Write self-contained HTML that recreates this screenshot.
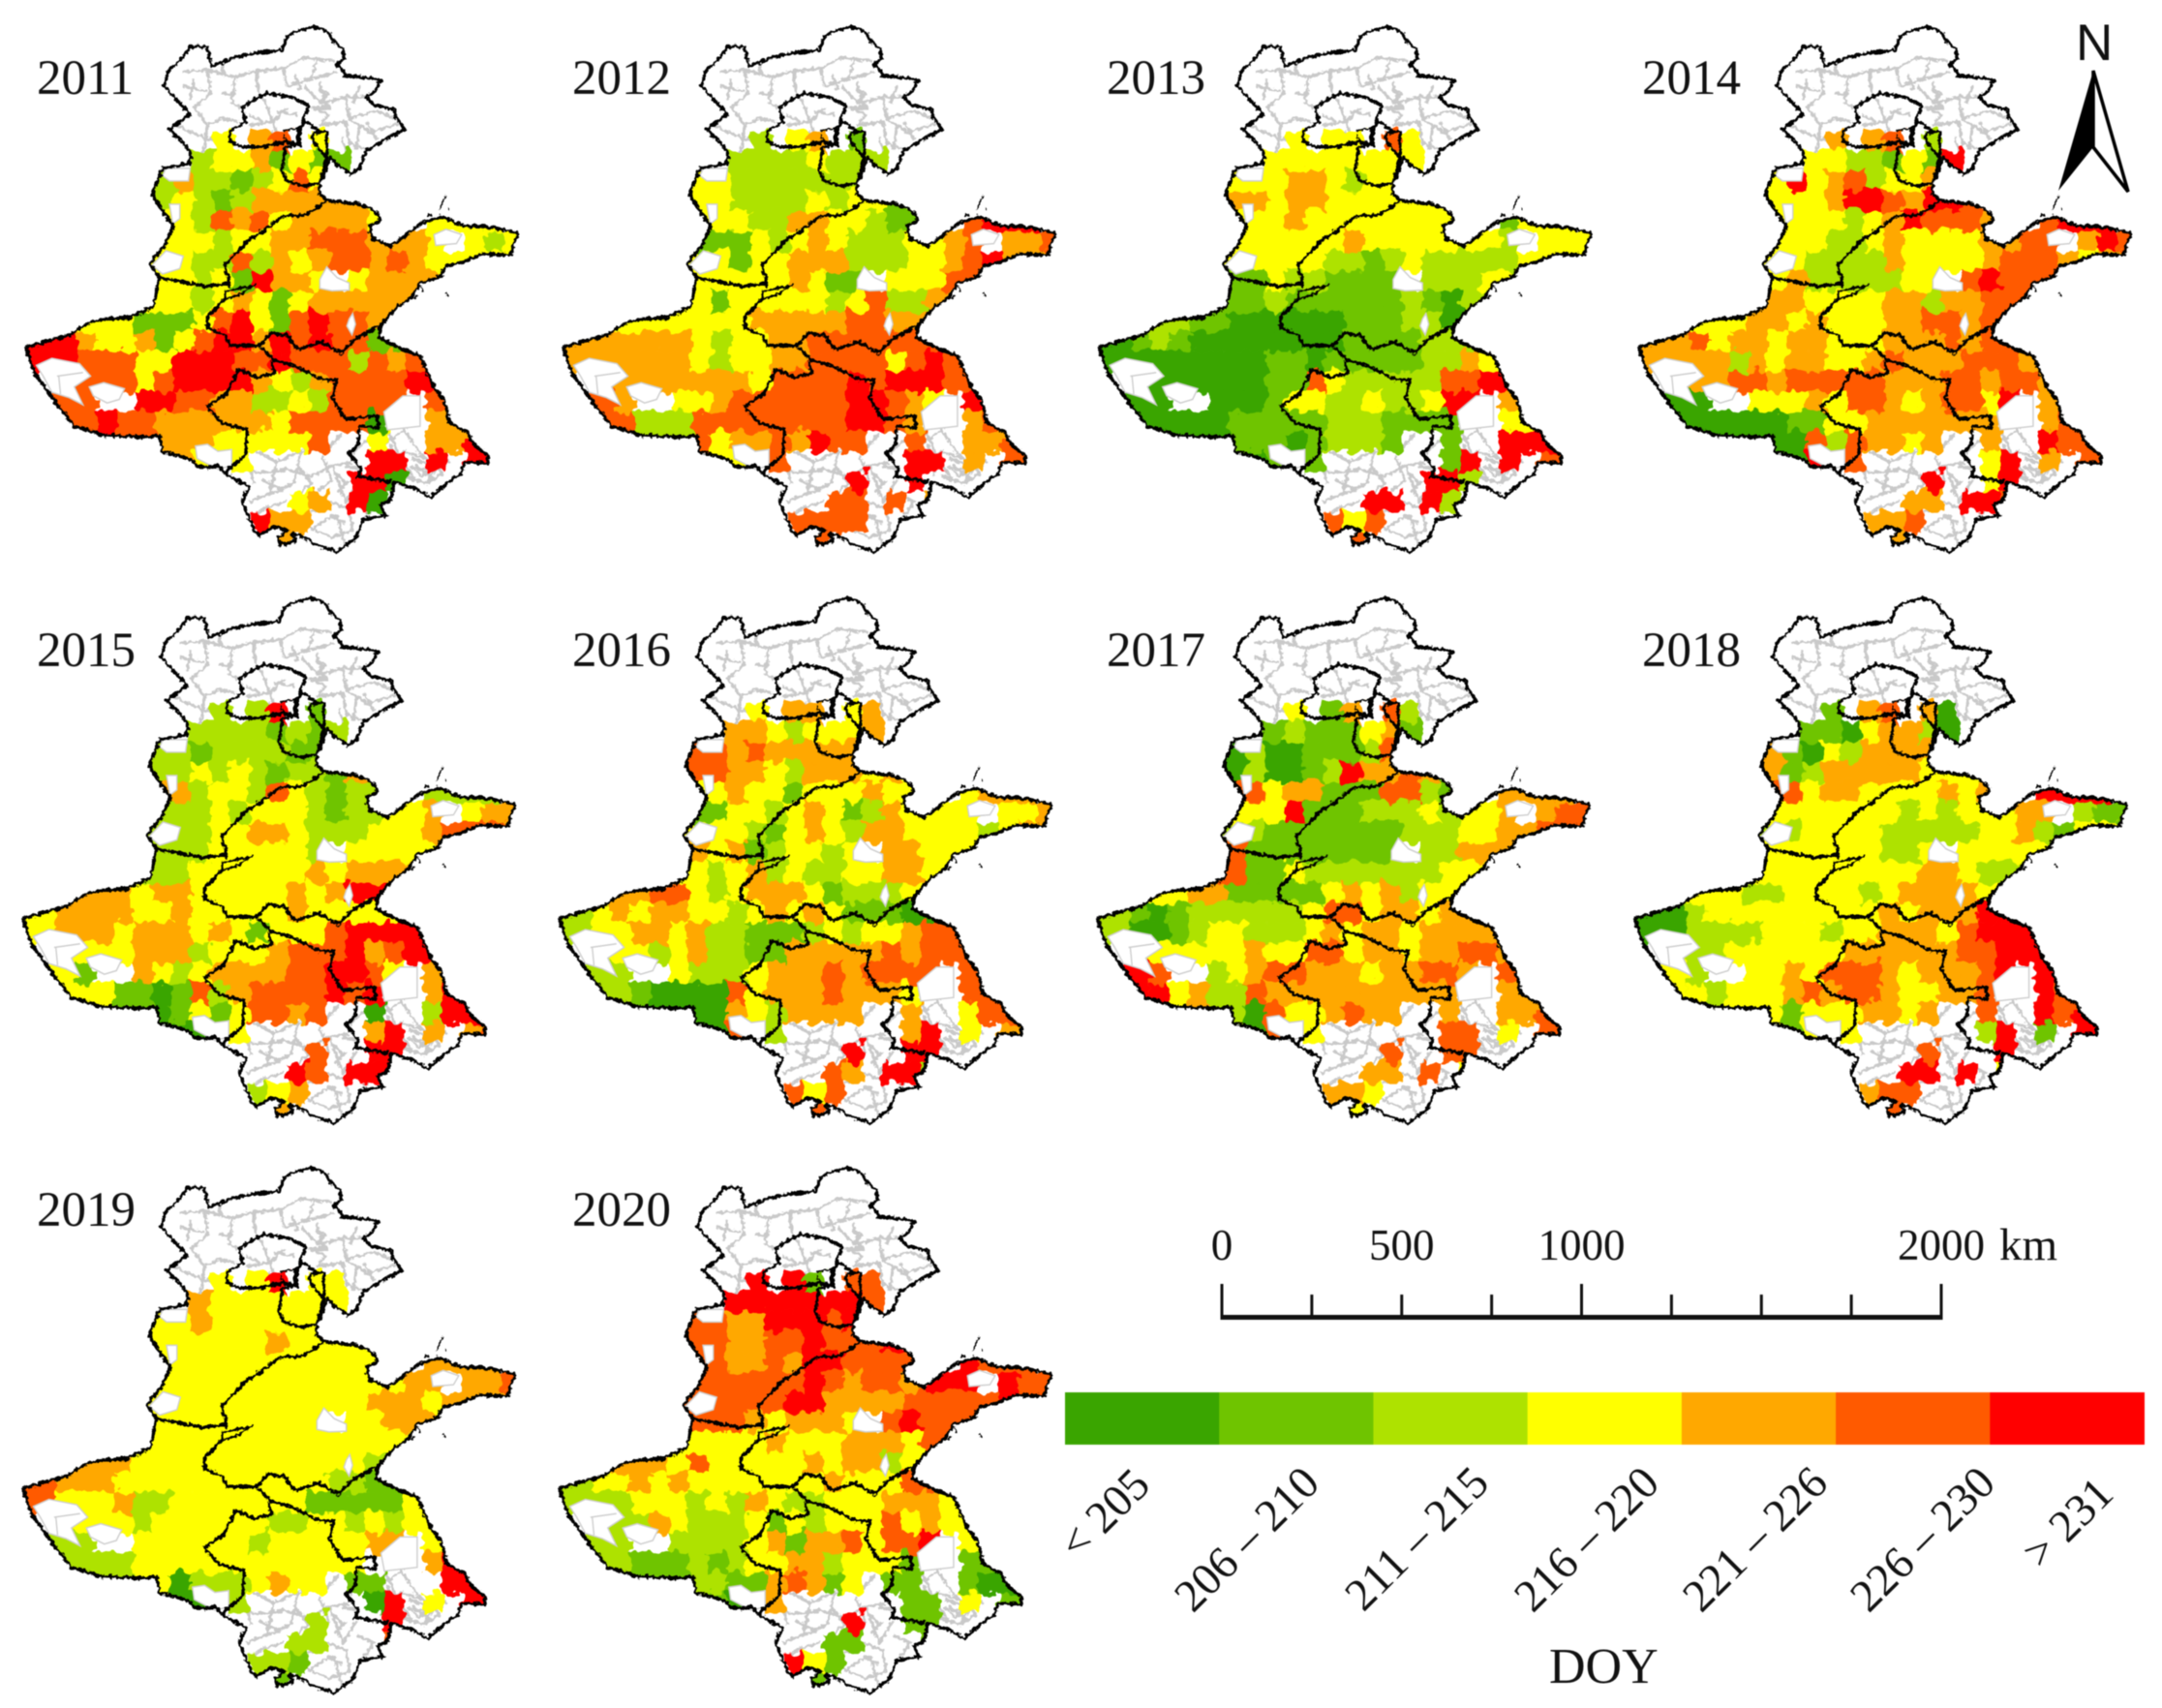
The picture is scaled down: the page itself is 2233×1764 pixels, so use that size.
<!DOCTYPE html>
<html lang="en">
<head>
<meta charset="utf-8">
<title>DOY maps 2011-2020</title>
<style>
html,body{margin:0;padding:0;background:#fff;}
svg{display:block;filter:blur(0.5px);}
text{font-family:"Liberation Serif",serif;fill:#111;}
</style>
</head>
<body>
<svg id="figure" xmlns="http://www.w3.org/2000/svg" width="2233" height="1764" viewBox="0 0 2233 1764">
<defs>
  <path id="land-outline" d="M830,100 L865,85 905,75 945,85 965,115 990,135 995,165 975,178 1000,210 1100,222 1085,255 1060,270 1085,295 1140,305 1147,330 1172,362 1120,385 1060,420 1040,470 1015,485 985,468 955,440 945,470 925,510 925,540 945,560 990,565 1040,570 1085,590 1102,615 1070,630 1075,665 1130,688 1170,660 1215,625 1280,605 1340,630 1430,635 1500,652 1485,680 1478,712 1400,708 1330,735 1290,742 1270,775 1215,790 1190,830 1140,865 1100,910 1095,940 1130,960 1215,995 1255,1080 1285,1120 1300,1180 1350,1205 1370,1240 1410,1270 1412,1295 1345,1290 1335,1320 1290,1350 1245,1390 1205,1365 1140,1345 1130,1395 1100,1410 1115,1440 1050,1450 1030,1500 975,1540 925,1525 870,1495 845,1490 855,1510 810,1522 805,1500 830,1480 790,1470 750,1495 735,1480 700,1400 722,1360 650,1320 630,1300 600,1305 570,1300 555,1285 470,1260 462,1215 425,1220 300,1215 215,1190 150,1110 100,1040 75,970 200,935 270,895 380,885 445,855 460,775 435,735 480,680 500,630 440,545 470,470 550,455 550,420 490,360 550,320 475,240 485,200 530,160 550,130 600,130 610,185 680,160 720,150 815,140 Z"/>
  <clipPath id="land-clip"><use href="#land-outline"/></clipPath>
  <filter id="organic-edges" filterUnits="userSpaceOnUse" x="0" y="300" width="1600" height="1300" color-interpolation-filters="sRGB">
    <feTurbulence type="fractalNoise" baseFrequency="0.035" numOctaves="2" seed="7" result="noise"/>
    <feDisplacementMap in="SourceGraphic" in2="noise" scale="46" xChannelSelector="R" yChannelSelector="G"/>
  </filter>
  <filter id="rough-lines" filterUnits="userSpaceOnUse" x="0" y="0" width="1600" height="1600" color-interpolation-filters="sRGB">
    <feTurbulence type="fractalNoise" baseFrequency="0.09" numOctaves="2" seed="3" result="noise"/>
    <feDisplacementMap in="SourceGraphic" in2="noise" scale="16" xChannelSelector="R" yChannelSelector="G"/>
  </filter>
  <g id="county-lines" fill="none" stroke="#c9c9c9" stroke-width="8" stroke-linejoin="round" filter="url(#rough-lines)">
    <path d="M530,200 L600,195 680,215 735,200 820,190 880,160 965,170"/>
    <path d="M820,190 L830,240 900,220 975,200"/>
    <path d="M600,195 L610,260 560,300 600,350 640,330 690,340"/>
    <path d="M680,215 L670,290 700,300"/>
    <path d="M530,240 L600,255"/>
    <path d="M880,240 L930,290 1000,270 1060,270"/>
    <path d="M925,230 L945,300 900,300"/>
    <path d="M1000,270 L1010,330 1090,310 1140,330"/>
    <path d="M925,350 L1000,340 1010,400 1060,420"/>
    <path d="M1010,330 L1070,370 1150,345"/>
    <path d="M990,380 L1000,440"/>
    <path d="M510,350 L600,390 650,380"/>
    <path d="M600,350 L590,420 560,455"/>
    <path d="M720,350 L790,340 830,300"/>
    <path d="M760,270 L790,340 800,370"/>
    <path d="M720,380 L790,370"/>
    <path d="M740,200 L750,270 M640,260 L680,265 M560,220 L550,280 M640,170 L650,215"/>
    <path d="M900,220 L920,160 M850,205 L870,250 M1040,240 L1020,290 M1060,340 L1090,390 M1040,350 L1030,420"/>
    <path d="M920,250 L950,260 930,280 955,300 920,305 M900,300 L950,320 925,350"/>
    <path d="M730,370 L760,390 M800,310 L860,320 M720,320 L760,340"/>
    <path d="M740,1260 L800,1290 870,1260 950,1250 990,1210"/>
    <path d="M680,1300 L750,1320 830,1310 900,1330 960,1300 1020,1290"/>
    <path d="M800,1290 L780,1380 720,1400"/>
    <path d="M870,1260 L850,1350 780,1380"/>
    <path d="M830,1400 L760,1420 730,1450"/>
    <path d="M960,1300 L1000,1400 1040,1340"/>
    <path d="M950,1400 L1010,1420 1020,1480 960,1500 890,1470"/>
    <path d="M900,1430 L950,1400"/>
    <path d="M975,1440 L1000,1530"/>
    <path d="M970,1320 L1000,1350 980,1370 1010,1340"/>
    <path d="M720,1300 L735,1350 M860,1300 L900,1350 850,1390 M760,1340 L820,1370 M930,1270 L960,1340 920,1370"/>
    <path d="M1040,1380 L1090,1400 1060,1440 M900,1480 L960,1440 1000,1460 M1000,1300 L1040,1310"/>
    <path d="M1130,1150 L1170,1200 1110,1240 1060,1230 1020,1265"/>
    <path d="M1170,1200 L1210,1260 1280,1320 1230,1350 1170,1330"/>
    <path d="M1100,1300 L1170,1260 1230,1280 1300,1290"/>
    <path d="M1130,1240 L1150,1330"/>
    <path d="M1200,1150 L1170,1200"/>
    <path d="M1200,1300 L1260,1340"/>
    <path d="M1190,1280 L1250,1300 1220,1330 1190,1300"/>
    <path d="M1120,1200 L1150,1260 1130,1300 M1210,1310 L1290,1300 M1240,1340 L1270,1290 M1160,1280 L1200,1340"/>
  </g>
  <g id="no-data-holes" fill="#fff" stroke="#cfcfcf" stroke-width="4">
    <path d="M105,1020 L150,1000 230,1015 262,1050 215,1080 240,1130 200,1110 150,1095 125,1050 Z"/>
    <path d="M258,1080 L300,1068 360,1085 345,1115 310,1125 270,1105 Z"/>
    <path d="M925,780 L945,745 975,775 1010,790 1010,810 960,812 925,805 Z"/>
    <path d="M1255,655 L1290,640 1335,655 1320,680 1260,685 Z"/>
    <path d="M470,490 L480,470 550,470 545,505 490,505 Z"/>
    <path d="M440,740 L480,700 530,715 520,750 470,765 Z"/>
    <path d="M565,1245 L600,1240 630,1260 670,1255 670,1300 630,1310 570,1280 Z"/>
    <path d="M1010,890 L1020,875 1028,905 1018,935 1003,910 Z"/>
    <path d="M490,570 L520,570 520,610 500,625 Z"/>
    <path d="M1110,1150 L1165,1105 1215,1105 1215,1190 1120,1200 Z"/>
    <path d="M165,1050 L240,1040 M175,1100 L170,1050"/>
  </g>
  <g id="province-borders" fill="none" stroke="#000" stroke-width="9" stroke-linejoin="round" filter="url(#rough-lines)">
    <use href="#land-outline"/>
    <path d="M665,365 L710,340 700,300 770,260 840,270 895,295 875,335 925,365 880,340 865,360 865,405 830,395 760,410 700,410 665,395 Z"/>
    <path d="M820,365 L860,358 860,405 830,400 820,375" stroke-width="5"/>
    <path d="M905,372 L945,368 945,440 925,510 880,520 830,505 815,480 825,410 860,405"/>
    <path d="M905,372 L905,395 945,440"/>
    <path d="M945,560 L885,600 815,605 770,640 720,670 650,740 665,790"/>
    <path d="M460,775 L600,800 660,790 665,800"/>
    <path d="M650,815 L735,795 700,820 650,835 Z" stroke-width="6"/>
    <path d="M650,835 L600,885 600,915 650,935 665,965 750,965 785,930 830,935 860,975 930,955 985,985 1030,945 1095,910"/>
    <path d="M755,970 L790,1005 850,1020 930,1060 975,1060 960,1110 1000,1170 1045,1165 1090,1160 1095,1195 1040,1190 1035,1240 1010,1265 1045,1310 1035,1330 1130,1345"/>
    <path d="M785,1010 L795,1040 745,1055 690,1030 655,1100 600,1135 640,1180 715,1200 710,1270 650,1320"/>
    <path d="M1290,545 L1270,585 M1215,795 L1225,815 M1195,835 L1210,825" stroke-width="5"/>
    <path d="M1295,585 h4 M1290,822 h4 M1240,600 h8 M1260,770 h6" stroke-width="6"/>
  </g>
</defs>
<g id="panels"></g>
<g id="north-arrow">
  <text x="2144" y="62" font-size="53" style="font-family:'Liberation Sans',sans-serif">N</text>
  <polygon points="2162,73 2126,197 2162,152" fill="#000"/>
  <polygon points="2162,73 2198,198 2162,152" fill="#fff" stroke="#000" stroke-width="3.5" stroke-linejoin="miter"/>
</g>
<g id="scale-bar"></g>
<g id="legend"></g>
<text x="1600" y="1738" font-size="52">DOY</text>
</svg>
<script>
const years = [2011, 2012, 2013, 2014, 2015, 2016, 2017, 2018, 2019, 2020];
const classLabels = ["< 205", "206 – 210", "211 – 215", "216 – 220", "221 – 226", "226 – 230", "> 231"];
const scaleTickValues = [0, 250, 500, 750, 1000, 1250, 1500, 1750, 2000];
const scaleLabelValues = [0, 500, 1000, 2000];

// DOY class per map grid cell: 0-6 index classLabels, "." means no data
const grid2011 = [
"..........3.45.3..........",
".........23341311.........",
".......242212353..........",
".......232124444443.......",
"........32545344443..33...",
"........33233445554443.323",
"........32252434554543333.",
".......332316443.3444.....",
".......3323431344444......",
"....331113563156554.......",
".664334135664656551.......",
".66555336665565552545.....",
"....553566664324555566....",
"..55..66554422325555.5....",
"...5655444444355550..44...",
"........44333335..3..446..",
"........43.3......66.6.66.",
".................660......",
"..............34.60.......",
"............644...........",
".............4............"];
const grid2012 = [
"..........2.34.1..........",
".........22223222.........",
".......332222222..........",
".......332222323311.......",
"........33224433211..56...",
"........11323432223345.445",
"........31334442223345644.",
".......333334311.3335.....",
".......3133333235224......",
"....333333444445544.......",
".444444323344555555.......",
".44444432334455553565.....",
"....444444355556566655....",
"..54..33455555566543.6....",
"...5222555555556654..45...",
"........34454655..5..445..",
"........33.5......66.4.55.",
"...............6..6.......",
"..............55.5.4......",
"............5555..........",
".............5............"];
const grid2013 = [
"..........3.33.53.........",
".........33333333.........",
".......333443233..........",
".......443443333333.......",
"........33433333333..13...",
"........33333433333332.333",
"........33332212322222333.",
".......113221111.2223.....",
".......1121111112102......",
"....211000000111220.......",
".012100000000111122.......",
".00000000110111112243.....",
"....000001153222225566....",
"..00..00013322322366.4....",
"...0000111112221111..33...",
"........11012221..1..666..",
"........01.1......16.6.55.",
".................662......",
"..............66.62.......",
"............535...........",
".............5............"];
const grid2014 = [
"..........4.45.2..........",
".........33221316.........",
".......363452334..........",
".......333466546655.......",
"........33323465554..56...",
"........33223433334455.465",
"........32222433334555434.",
".......342222233.5655.....",
".......4433334424455......",
"....334434333445545.......",
".445344344333444545.......",
".44442434433454445554.....",
"....455455555444554554....",
"..00..33343554345536.4....",
"...0000011334444444..45...",
"........05254434..4..655..",
"........06.5......36.4.55.",
"...............6..36......",
"..............44.665......",
"............445...........",
".............4............"];
const grid2015 = [
"..........2.26.1..........",
".........22221212.........",
".......221222211..........",
".......223232122144.......",
"........42332532122..22...",
"........22323332122334.344",
"........22334432223334555.",
".......222333332.3333.....",
".......2233333343444......",
"....443443333343466.......",
".344443343333343333.......",
".34443444343133356666.....",
"....334442333455564566....",
"..31..43234444556653.4....",
"...3311015245555656..46...",
"........13135545..0..266..",
"........00.3......46.4.45.",
"...............5..66......",
"..............65.666......",
"............234...........",
".............4............"];
const grid2016 = [
"..........3.44.34.........",
".........44323334.........",
".......554544444..........",
".......554432444343.......",
"........34331333433..34...",
"........13323431243333.334",
"........33213432443333234.",
".......434123323.4433.....",
".......3234232233443......",
"....455323444312223.......",
".234344332343431110.......",
".23344342211123233455.....",
"....323422114444454555....",
"..22..32223444545555.5....",
"...2100005344454443..55...",
"........04324444..4..355..",
"........05.2......46.3.44.",
"...............6..66......",
"..............54.662......",
"............535...........",
".............5............"];
const grid2017 = [
"..........3.14.52.........",
".........12111341.........",
".......020011125..........",
".......020012644541.......",
"........53441115521..44...",
"........33611122232334.455",
"........21111111222334455.",
".......511111111.2244.....",
".......5113222222233......",
"....344111113434233.......",
".210122222235534434.......",
".20012332223434434444.....",
"....333343355344344554....",
"..65..23455444344554.5....",
"...6342254444444444..44...",
"........05334544..4..445..",
"........05.3......55.3.55.",
"...............5..55......",
"..............44.5.3......",
"............443...........",
".............3............"];
const grid2018 = [
"..........1.45.40.........",
".........11034420.........",
".......410324444..........",
".......412444443333.......",
"........53443333434..66...",
"........33333323233344.211",
"........23333222223342133.",
".......333333223.3333.....",
".......3333333344322......",
"....332233332344443.......",
".002333333333434446.......",
".00222233323344435666.....",
"....233333344444455666....",
"..32..33435554344456.6....",
"...3233345455433445..65...",
"........13334434..5..656..",
"........13.3......26.1.66.",
"...............5...6......",
"..............66.6.3......",
"............455...........",
".............5............"];
const grid2019 = [
"..........3.36.33.........",
".........43333333.........",
".......334333333..........",
".......333333433333.......",
"........33333333333..44...",
"........33333333333344.445",
"........33333333334443444.",
".......333333333.3344.....",
".......3333333333333......",
"....443333333333332.......",
".544433333333333221.......",
".53334223333333111113.....",
"....332333333223323233....",
"..22..33333323333344.3....",
"...222333333333333...46...",
"........02223433.11...66..",
"........00.2......06.3.66.",
"...............2...6......",
"..............22...5......",
"............221...........",
".............1............"];
const grid2020 = [
"..........6.61.55.........",
".........66666665.........",
".......554466656..........",
".......554455655566.......",
"........54454665555..65...",
"........55555654554666.655",
"........55556644445555565.",
".......555434443.5655.....",
".......3333433344435......",
"....443533333434423.......",
".233434333333343335.......",
".22233323243223334443.....",
"....243222313233353433....",
"..22..22223414453556.3....",
"...2111212334423331..11...",
"........21145413.11..100..",
"........10.4......11.3.11.",
"...............6..11......",
"..............11...1......",
"............631...........",
".............1............"];
const yearGrids = [grid2011, grid2012, grid2013, grid2014, grid2015, grid2016, grid2017, grid2018, grid2019, grid2020];

// layout (not data)
const classColors = ["#3aa500", "#6fc400", "#aee200", "#ffff00", "#ffa800", "#ff5a00", "#ff0000"];
const panelOffsets = [[0,0],[555,0],[1108.5,0],[1666,0],[-3,590],[551,590],[1106.7,590],[1661.7,590],[-3,1178.5],[551,1178.5]];
const yearLabelPos = [[38,97],[591,97],[1143,97],[1696,97],[38,688],[591,688],[1143,688],[1696,688],[38,1266],[591,1266]];
const legendLabelAnchors = [[1190,1536],[1365,1534],[1540,1534],[1716,1534],[1890,1534],[2063,1534],[2185,1545]];

const SVGNS = "http://www.w3.org/2000/svg";
const CELL = 56, GRID_X0 = 56, GRID_Y0 = 364;
function colX(c) { return GRID_X0 + c * CELL; }
function rowY(r) { return GRID_Y0 + r * CELL; }
function scaleX(v) { return 1262 + v * (743 / 2000); }
function legendX(i) { return 1100 + i * (1114.5 / classLabels.length); }
function mk(tag, attrs) {
  const el = document.createElementNS(SVGNS, tag);
  for (const k in attrs) el.setAttribute(k, attrs[k]);
  return el;
}
function firstFilled(row) { for (let c = 0; c < row.length; c++) if (row[c] !== ".") return c; return -1; }
function lastFilled(row) { for (let c = row.length - 1; c >= 0; c--) if (row[c] !== ".") return c; return -1; }

const panelsRoot = document.getElementById("panels");
years.forEach(function (year, i) {
  const off = panelOffsets[i];
  const panel = mk("g", {});
  
  

  const map = mk("g", { transform: "translate(" + off[0] + "," + off[1] + ") scale(" + (1 / 2.8) + "," + (1 / 2.703) + ")" });
  
  

  const land = mk("use", { href: "#land-outline", fill: "#fff" });
  
  
  map.appendChild(land);

  const counties = mk("use", { href: "#county-lines", "clip-path": "url(#land-clip)" });
  
  
  map.appendChild(counties);

  const clip = mk("g", { "clip-path": "url(#land-clip)" });
  
  
  const cells = mk("g", { filter: "url(#organic-edges)" });
  
  

  // outer cells of a row bleed to the coast; the land clip trims them
  yearGrids[i].forEach(function (row, r) {
    if (r < 2 || r > 14) return;
    const a = firstFilled(row), b = lastFilled(row);
    if (a >= 0) {
      const left = mk("rect", { x: colX(a) - 2 * CELL, y: rowY(r), width: 2 * CELL + 2, height: CELL + 1, fill: classColors[+row[a]] });
      
      
      cells.appendChild(left);
    }
    if (b >= 0 && r >= 3) {
      const right = mk("rect", { x: colX(b) + CELL - 2, y: rowY(r), width: 2 * CELL + 2, height: CELL + 1, fill: classColors[+row[b]] });
      
      
      cells.appendChild(right);
    }
  });

  yearGrids[i].forEach(function (row, r) {
    for (let c = 0; c < row.length; c++) {
      const v = row[c];
      if (v === ".") continue;
      const southEdge = (r === 14 && c < 8) || (r === 13 && c < 4) || (r === 16 && c < 10);
      const rect = mk("rect", { x: colX(c), y: rowY(r), width: CELL + 1, height: southEdge ? 2 * CELL : CELL + 1, fill: classColors[+v] });
      
      
      cells.appendChild(rect);
    }
  });
  clip.appendChild(cells);
  map.appendChild(clip);

  const holes = mk("use", { href: "#no-data-holes" });
  
  
  map.appendChild(holes);

  const borders = mk("use", { href: "#province-borders" });
  
  
  map.appendChild(borders);
  panel.appendChild(map);

  const label = mk("text", { x: yearLabelPos[i][0], y: yearLabelPos[i][1], "font-size": 51 });
  
  
  label.textContent = year;
  panel.appendChild(label);
  panelsRoot.appendChild(panel);
});

const scaleRoot = document.getElementById("scale-bar");
const baseLine = mk("rect", { x: scaleX(0) - 1.5, y: 1358, width: scaleX(2000) - scaleX(0) + 3, height: 5, fill: "#111" });


scaleRoot.appendChild(baseLine);
scaleTickValues.forEach(function (v) {
  const major = scaleLabelValues.indexOf(v) >= 0 && v !== 500;
  const tick = mk("rect", { x: scaleX(v) - 1.5, y: major ? 1326 : 1337, width: 3, height: major ? 34 : 23, fill: "#111" });
  
  
  scaleRoot.appendChild(tick);
});
scaleLabelValues.forEach(function (v) {
  const t = mk("text", { x: scaleX(v), y: 1301, "font-size": 45, "text-anchor": "middle" });
  
  
  t.textContent = v;
  scaleRoot.appendChild(t);
});
const unit = mk("text", { x: scaleX(2000) + 60, y: 1301, "font-size": 47 });


unit.textContent = "km";
scaleRoot.appendChild(unit);

const legendRoot = document.getElementById("legend");
classLabels.forEach(function (lab, i) {
  const sw = mk("rect", { x: legendX(i), y: 1438, width: legendX(i + 1) - legendX(i) + 0.5, height: 54, fill: classColors[i] });
  
  
  legendRoot.appendChild(sw);
  const a = legendLabelAnchors[i];
  const t = mk("text", { transform: "translate(" + a[0] + "," + a[1] + ") rotate(-45)", "font-size": 47, "text-anchor": "end" });
  
  
  t.textContent = lab;
  legendRoot.appendChild(t);
});
</script>
</body>
</html>
